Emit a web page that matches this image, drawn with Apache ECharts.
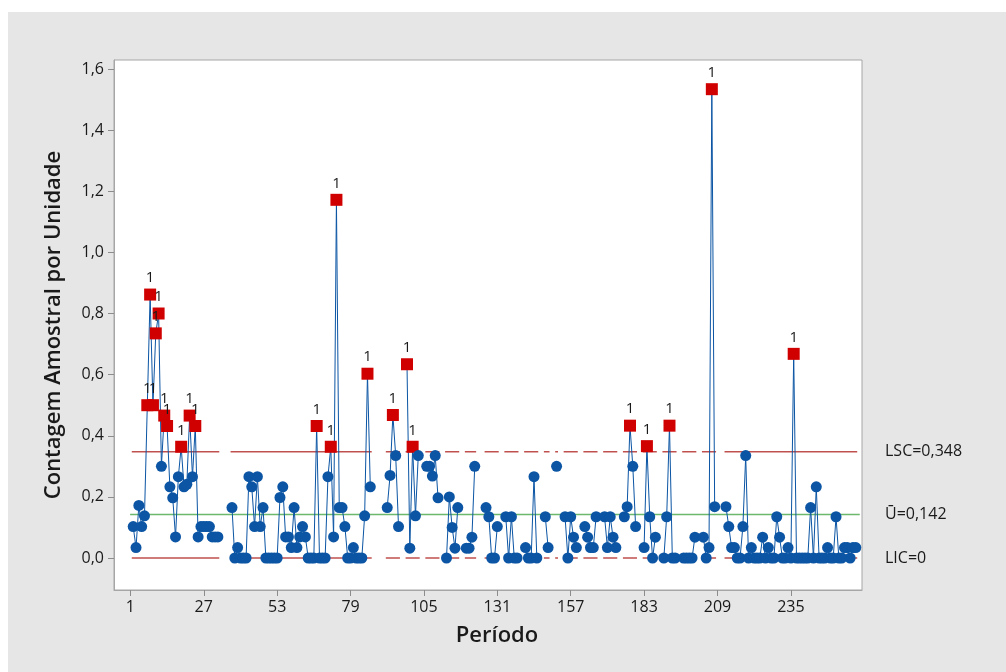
<!DOCTYPE html>
<html>
<head>
<meta charset="utf-8">
<script src="https://cdn.jsdelivr.net/npm/echarts@6/dist/echarts.min.js"></script>
<style>
  html, body { margin: 0; padding: 0; background: #ffffff; }
  #chart { width: 1006px; height: 672px; }
</style>
</head>
<body>
<div id="chart"></div>
<script>
// U chart: defects per unit by period (null = no subgroup recorded)
const rates = [
  null,
  0.103, 0.034, 0.172, 0.103, 0.138, 0.500, 0.862, 0.500, 0.735, 0.800,
  0.300, 0.466, 0.432, 0.233, 0.197, 0.069, 0.266, 0.364, 0.233, 0.241,
  0.466, 0.266, 0.432, 0.069, 0.103, 0.103, 0.103, 0.103, 0.069, 0.069,
  0.069, null,  null,  null,  null,  0.165, 0,     0.034, 0,     0,
  0,     0.266, 0.233, 0.103, 0.266, 0.103, 0.165, 0,     0,     0,
  0,     0,     0.198, 0.233, 0.069, 0.069, 0.034, 0.165, 0.034, 0.069,
  0.103, 0.069, 0,     0,     0,     0.432, 0,     0,     0,     0.266,
  0.364, 0.069, 1.172, 0.165, 0.165, 0.103, 0,     0,     0.034, 0,
  0,     0,     0.138, 0.603, 0.233, null,  null,  null,  null,  null,
  0.165, 0.270, 0.468, 0.335, 0.103, null,  null,  0.634, 0.032, 0.364,
  0.138, 0.335, null,  null,  0.300, 0.300, 0.268, 0.335, 0.197, null,
  null,  0,     0.200, 0.100, 0.032, 0.165, null,  null,  0.032, 0.032,
  0.068, 0.300, null,  null,  null,  0.165, 0.135, 0,     0,     0.103,
  null,  null,  0.135, 0,     0.135, 0,     0,     null,  null,  0.034,
  0,     0,     0.266, 0,     null,  null,  0.135, 0.034, null,  null,
  0.300, null,  null,  0.135, 0,     0.135, 0.068, 0.034, null,  null,
  0.103, 0.068, 0.034, 0.034, 0.135, null,  null,  0.135, 0.034, 0.135,
  0.068, 0.034, null,  null,  0.135, 0.168, 0.433, 0.300, 0.103, null,
  null,  0.034, 0.366, 0.135, 0,     0.068, null,  null,  0,     0.135,
  0.433, 0,     0,     null,  null,  0,     0,     0,     0,     0.068,
  null,  null,  0.068, 0,     0.034, 1.534, 0.168, null,  null,  null,
  0.168, 0.103, 0.034, 0.034, 0,     0,     0.103, 0.335, 0,     0.034,
  0,     0,     0,     0.068, 0,     0.034, 0,     0,     0.135, 0.068,
  0,     0,     0.034, 0,     0.668, 0,     0,     0,     0,     0,
  0.165, 0,     0.233, 0,     0,     0,     0.034, 0,     0,     0.135,
  0,     0,     0.034, 0.034, 0,     0.034, 0.034
];

const limitUpper = 0.348;
const centreLine = 0.142;
const limitLower = 0;

const xTickValues = [1, 27, 53, 79, 105, 131, 157, 183, 209, 235];
const yTickValues = [0, 0.2, 0.4, 0.6, 0.8, 1.0, 1.2, 1.4, 1.6];

const BLUE = '#0b55a4';
const RED = '#d10000';
const LIMIT_RED = '#c0504d';
const GREEN = '#6cb86c';
const TEXT = '#1a1a1a';
const FONT = '"Open Sans", "Noto Sans", sans-serif';

const fmtComma = (v, d) => v.toFixed(d).replace('.', ',');

// Point data: out-of-control subgroups get a red square flagged "1"
const pointData = rates.map((v, i) => {
  const p = i + 1;
  if (v == null) return [p, null];
  if (v > limitUpper) {
    return {
      value: [p, v],
      symbol: 'rect',
      symbolSize: 12,
      itemStyle: { color: RED },
      label: { show: true }
    };
  }
  return [p, v];
});

// Step-style limit line: one short segment per recorded subgroup
function limitSteps(level) {
  const out = [];
  rates.forEach((v, i) => {
    const p = i + 1;
    if (v == null) {
      out.push([p, null]);
    } else {
      out.push([p - 0.5, level]);
      out.push([p + 0.5, level]);
    }
  });
  return out;
}

const chart = echarts.init(document.getElementById('chart'), null, { renderer: 'canvas' });

const GRID = { left: 114, top: 60, width: 748, height: 530 };

chart.setOption({
  animation: false,
  backgroundColor: '#ffffff',
  textStyle: { fontFamily: FONT },
  grid: Object.assign({ show: true, backgroundColor: '#ffffff', borderColor: '#a6a6a6', borderWidth: 1 }, GRID),
  xAxis: {
    type: 'value',
    min: -4.8,
    max: 260.2,
    name: 'Período',
    nameLocation: 'middle',
    nameGap: 35,
    nameTextStyle: { fontSize: 22, fontWeight: 600, color: TEXT, fontFamily: FONT, padding: [0, 0, 0, 18] },
    axisLine: { show: true, onZero: false, lineStyle: { color: '#a6a6a6' } },
    axisTick: { show: true, length: 6, customValues: xTickValues, lineStyle: { color: '#8c8c8c' } },
    axisLabel: { customValues: xTickValues, fontSize: 16, color: TEXT, margin: 9, fontFamily: FONT },
    splitLine: { show: false }
  },
  yAxis: {
    type: 'value',
    min: -0.1047,
    max: 1.6295,
    name: 'Contagem Amostral por Unidade',
    nameLocation: 'middle',
    nameGap: 49,
    nameTextStyle: { fontSize: 22, fontWeight: 600, color: TEXT, fontFamily: FONT },
    axisLine: { show: true, onZero: false, lineStyle: { color: '#a6a6a6' } },
    axisTick: { show: true, length: 6, customValues: yTickValues, lineStyle: { color: '#8c8c8c' } },
    axisLabel: { customValues: yTickValues, fontSize: 16, color: TEXT, margin: 10, fontFamily: FONT,
                 formatter: v => fmtComma(v, 1) },
    splitLine: { show: false }
  },
  series: [
    {
      name: 'LSC', type: 'line', z: 1, silent: true,
      data: limitSteps(limitUpper), symbol: 'none', connectNulls: false,
      lineStyle: { color: LIMIT_RED, width: 1.5 }
    },
    {
      name: 'LIC', type: 'line', z: 1, silent: true,
      data: limitSteps(limitLower), symbol: 'none', connectNulls: false,
      lineStyle: { color: LIMIT_RED, width: 1.5 }
    },
    {
      name: 'Média', type: 'line', z: 1, silent: true,
      data: [[0.9, centreLine], [259.4, centreLine]], symbol: 'none',
      lineStyle: { color: GREEN, width: 1.5 }
    },
    {
      name: 'U', type: 'line', z: 3,
      data: pointData,
      connectNulls: false,
      showAllSymbol: true,
      symbol: 'circle',
      symbolSize: 11,
      itemStyle: { color: BLUE },
      lineStyle: { color: BLUE, width: 1 },
      label: {
        show: false, position: 'top', distance: 3, formatter: '1',
        fontSize: 15, color: TEXT, fontFamily: FONT
      }
    }
  ]
});

// Grey figure panel behind the plot, and limit captions to the right of it
const capX = GRID.left + GRID.width + 23;
const capY = v => chart.convertToPixel({ yAxisIndex: 0 }, v);
const captions = [
  { text: 'LSC=' + fmtComma(limitUpper, 3), value: limitUpper },
  { text: 'U\u0304=' + fmtComma(centreLine, 3), value: centreLine },
  { text: 'LIC=' + limitLower, value: limitLower }
];
chart.setOption({
  graphic: [
    { id: 'panel', type: 'rect', z: -10, silent: true,
      shape: { x: 8, y: 12, width: 1000, height: 662 },
      style: { fill: '#e6e6e6' } }
  ].concat(captions.map((c, k) => ({
    id: 'cap' + k, type: 'text', silent: true, z: 10,
    x: capX, y: capY(c.value),
    style: { text: c.text, fill: TEXT, font: '16px ' + FONT, verticalAlign: 'middle', align: 'left' }
  })))
});
</script>
</body>
</html>
